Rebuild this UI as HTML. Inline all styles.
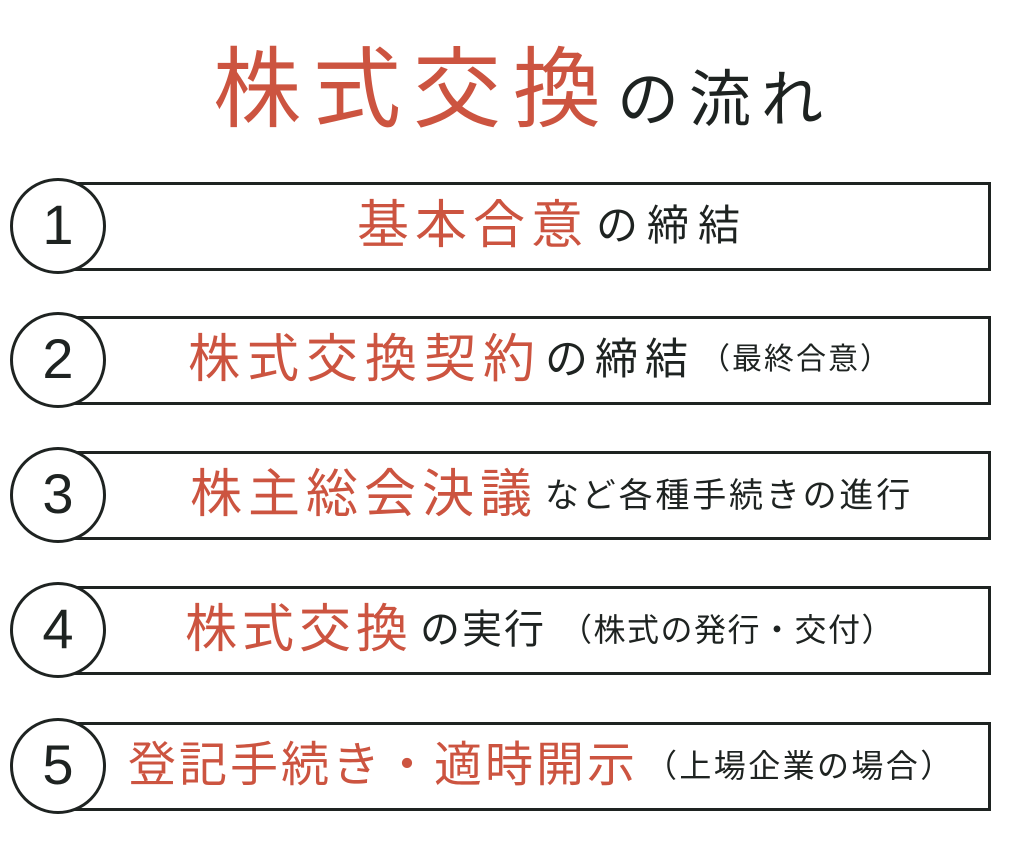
<!DOCTYPE html>
<html><head><meta charset="utf-8"><style>
html,body{margin:0;padding:0;background:#fff;}
body{width:1024px;height:843px;position:relative;overflow:hidden;font-family:"Liberation Sans","Noto Sans CJK JP",sans-serif;}
.t{position:absolute;white-space:nowrap;line-height:1;}
.r{color:#cc5440;}
.k{color:#1e2321;}
.box{position:absolute;left:62px;width:929px;border:3.5px solid #1e2321;box-sizing:border-box;}
.c{position:absolute;width:96px;height:96px;border:3.5px solid #1e2321;border-radius:50%;background:#fff;box-sizing:border-box;text-align:center;font-family:"Liberation Sans",sans-serif;font-size:56px;line-height:88px;color:#1e2321;}
</style></head><body>
<div class="t r" style="left:213px;top:46px;font-size:88px;letter-spacing:12px;">株式交換</div>
<div class="t k" style="left:617px;top:70px;font-size:62px;letter-spacing:10px;">の流れ</div>

<div class="box" style="top:182px;height:89px;"></div>
<div class="c" style="left:10px;top:178px;">1</div>
<div class="t r" style="left:357px;top:200px;font-size:52px;letter-spacing:6px;">基本合意</div>
<div class="t k" style="left:596px;top:205px;font-size:42px;letter-spacing:9px;">の締結</div>

<div class="box" style="top:316px;height:89px;"></div>
<div class="c" style="left:10px;top:312px;">2</div>
<div class="t r" style="left:188px;top:334px;font-size:52px;letter-spacing:7px;">株式交換契約</div>
<div class="t k" style="left:545px;top:339px;font-size:43px;letter-spacing:7px;">の締結</div>
<div class="t k" style="left:700px;top:345px;font-size:30px;letter-spacing:2px;">（最終合意）</div>

<div class="box" style="top:451px;height:89px;"></div>
<div class="c" style="left:10px;top:447px;">3</div>
<div class="t r" style="left:190px;top:469px;font-size:52px;letter-spacing:6px;">株主総会決議</div>
<div class="t k" style="left:545px;top:479px;font-size:34px;letter-spacing:2.8px;">など各種手続きの進行</div>

<div class="box" style="top:586px;height:89px;"></div>
<div class="c" style="left:10px;top:582px;">4</div>
<div class="t r" style="left:185px;top:604px;font-size:52px;letter-spacing:5px;">株式交換</div>
<div class="t k" style="left:420px;top:610px;font-size:40px;letter-spacing:2px;">の実行</div>
<div class="t k" style="left:560px;top:614px;font-size:32px;letter-spacing:1.5px;">（株式の発行・交付）</div>

<div class="box" style="top:722px;height:89px;"></div>
<div class="c" style="left:10px;top:718px;">5</div>
<div class="t r" style="left:128px;top:742px;font-size:48px;letter-spacing:3px;">登記手続き・適時開示</div>
<div class="t k" style="left:645px;top:750px;font-size:32px;letter-spacing:2.4px;">（上場企業の場合）</div>
</body></html>
